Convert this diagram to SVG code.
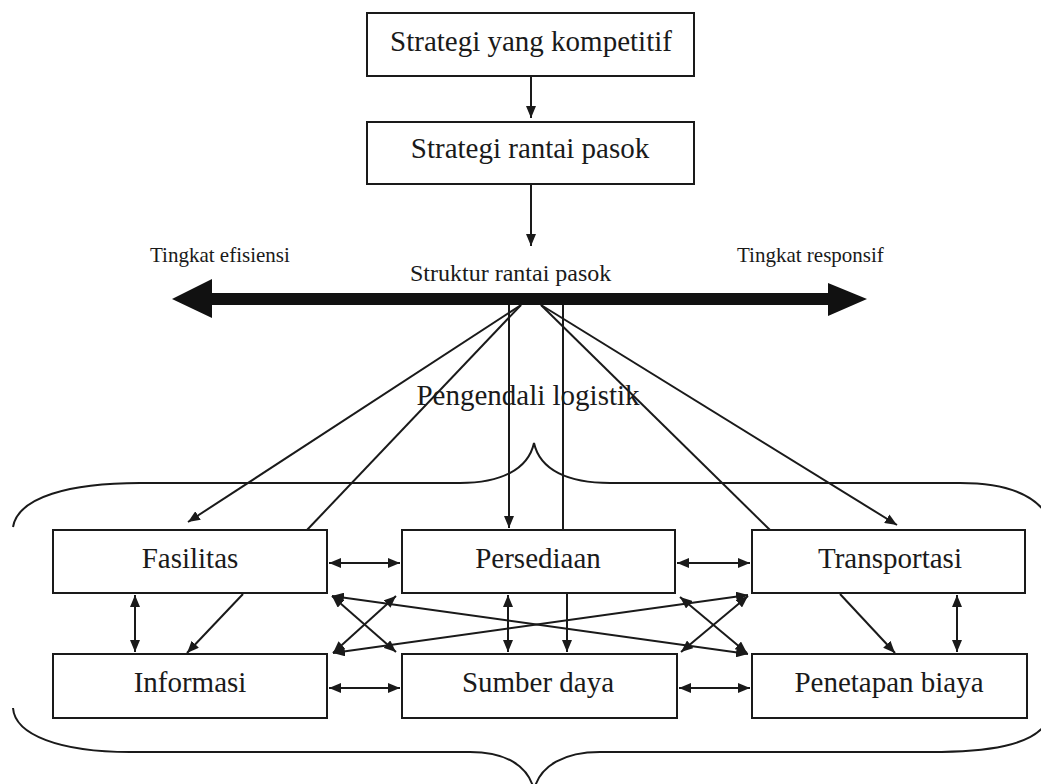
<svg xmlns="http://www.w3.org/2000/svg" width="1041" height="784" viewBox="0 0 1041 784">
<style>
.box{fill:#fff;stroke:#1a1a1a;stroke-width:2}
.t{font-family:"Liberation Serif","Times New Roman",serif;font-size:29px;fill:#1a1a1a;text-anchor:middle}
.s{font-family:"Liberation Serif","Times New Roman",serif;fill:#1a1a1a}
.ln{fill:none;stroke:#1a1a1a;stroke-width:2}
.arr{fill:none;stroke:#1a1a1a;stroke-width:2;marker-end:url(#ah)}
.dbl{fill:none;stroke:#1a1a1a;stroke-width:2;marker-start:url(#ah);marker-end:url(#ah)}
.brace{fill:none;stroke:#1a1a1a;stroke-width:2}
</style>
<defs>
<marker id="ah" viewBox="0 0 12 10" refX="12" refY="5" markerWidth="12" markerHeight="10" markerUnits="userSpaceOnUse" orient="auto-start-reverse">
<path d="M0,0 L12,5 L0,10 z" fill="#1a1a1a"/>
</marker>
</defs>
<rect width="1041" height="784" fill="#fff"/>

<g id="braces">
<path class="brace" d="M13,527 C18,497 70,483 140,483 L460,483 C500,483 528,470 534,443 C540,470 568,483 610,483 L960,483 C1000,483 1030,492 1045,512"/>
<path class="brace" d="M13,708 C15,735 60,752 130,752 L470,752 C505,752 528,765 534,790 C540,765 565,752 600,752 L930,752 C990,752 1030,745 1045,725"/>
</g>

<g id="connectors">
<line class="arr" x1="531" y1="76" x2="531" y2="118"/>
<line class="arr" x1="531" y1="184" x2="531" y2="246"/>
<polygon id="spectrum" points="172,299 212,279 212,293 828,293 828,283 867,299 828,316 828,305 212,305 212,318" fill="#111"/>
<line class="arr" x1="521" y1="305" x2="188" y2="522"/>
<line class="ln" x1="521" y1="305" x2="307" y2="530"/>
<line class="arr" x1="509" y1="305" x2="509" y2="528"/>
<line class="ln" x1="563" y1="305" x2="563" y2="530"/>
<line class="ln" x1="541" y1="305" x2="770" y2="530"/>
<line class="arr" x1="541" y1="305" x2="897" y2="525"/>

<line class="dbl" x1="329" y1="563" x2="400" y2="563"/>
<line class="dbl" x1="677" y1="563" x2="750" y2="563"/>
<line class="dbl" x1="329" y1="688" x2="400" y2="688"/>
<line class="dbl" x1="679" y1="688" x2="750" y2="688"/>

<line class="dbl" x1="135" y1="595" x2="135" y2="652"/>
<line class="dbl" x1="508" y1="595" x2="508" y2="652"/>
<line class="dbl" x1="957" y1="595" x2="957" y2="652"/>

<line class="arr" x1="243" y1="594" x2="187" y2="653"/>
<line class="arr" x1="567" y1="594" x2="567" y2="652"/>
<line class="arr" x1="840" y1="594" x2="895" y2="653"/>

<line class="dbl" x1="332" y1="596" x2="396" y2="652"/>
<line class="dbl" x1="396" y1="596" x2="333" y2="653"/>
<line class="dbl" x1="332" y1="596" x2="748" y2="654"/>
<line class="dbl" x1="333" y1="653" x2="748" y2="595"/>
<line class="dbl" x1="680" y1="597" x2="747" y2="653"/>
<line class="dbl" x1="681" y1="652" x2="748" y2="596"/>
</g>

<g id="labels">
<text class="s" x="150" y="262" font-size="21">Tingkat efisiensi</text>
<text class="s" x="737" y="262" font-size="21">Tingkat responsif</text>
<text class="s" x="410" y="281" font-size="24">Struktur rantai pasok</text>
<text class="t" x="528" y="405">Pengendali logistik</text>
</g>

<g id="n-strategi-kompetitif">
<rect class="box" x="367" y="13" width="327" height="63"/>
<text class="t" x="531" y="51">Strategi yang kompetitif</text>
</g>
<g id="n-strategi-rantai">
<rect class="box" x="367" y="122" width="327" height="62"/>
<text class="t" x="530" y="158">Strategi rantai pasok</text>
</g>

<g id="n-fasilitas">
<rect class="box" x="53" y="530" width="274" height="63"/>
<text class="t" x="190" y="568">Fasilitas</text>
</g>
<g id="n-persediaan">
<rect class="box" x="402" y="530" width="273" height="63"/>
<text class="t" x="538" y="568">Persediaan</text>
</g>
<g id="n-transportasi">
<rect class="box" x="752" y="530" width="273" height="63"/>
<text class="t" x="890" y="568">Transportasi</text>
</g>
<g id="n-informasi">
<rect class="box" x="53" y="654" width="274" height="64"/>
<text class="t" x="190" y="692">Informasi</text>
</g>
<g id="n-sumber-daya">
<rect class="box" x="402" y="654" width="275" height="64"/>
<text class="t" x="538" y="692">Sumber daya</text>
</g>
<g id="n-penetapan-biaya">
<rect class="box" x="752" y="654" width="275" height="64"/>
<text class="t" x="889" y="692">Penetapan biaya</text>
</g>
</svg>
